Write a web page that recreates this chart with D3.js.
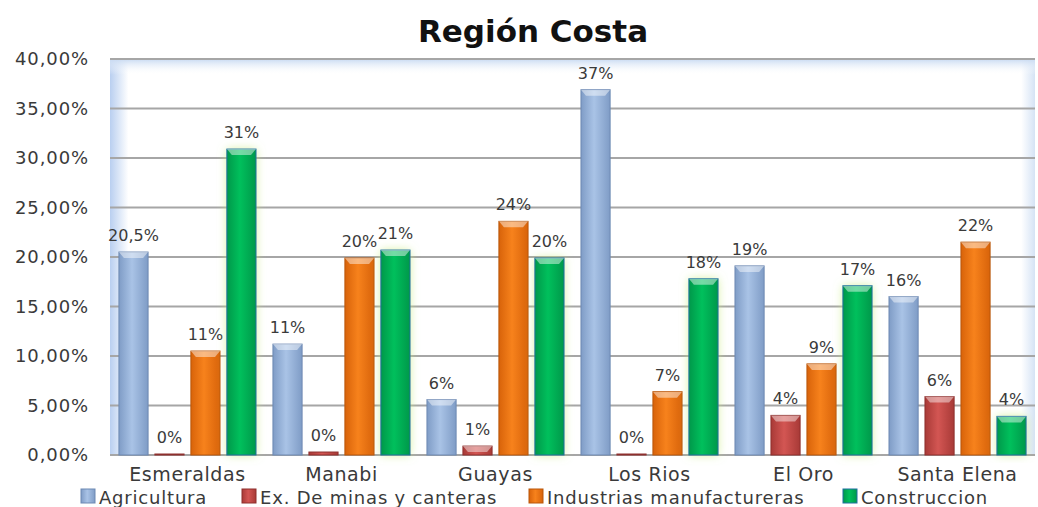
<!DOCTYPE html>
<html>
<head>
<meta charset="utf-8">
<script src="https://cdn.jsdelivr.net/npm/d3@7"></script>
<style>
  body { margin: 0; background: #fff; }
  svg { display: block; font-family: "DejaVu Sans", Verdana, sans-serif; }
</style>
</head>
<body>
<svg id="chart" width="1038" height="507"></svg>
<script>
// data
const regions = ["Esmeraldas", "Manabi", "Guayas", "Los Rios", "El Oro", "Santa Elena"];
const seriesNames = ["Agricultura", "Ex. De minas y canteras", "Industrias manufactureras", "Construccion"];
const agricultura = [20.5, 11.2, 5.6, 36.9, 19.1, 16.0];
const minas = [0.1, 0.3, 0.9, 0.1, 4.0, 5.9];
const industrias = [10.5, 19.9, 23.6, 6.4, 9.2, 21.5];
const construccion = [30.9, 20.7, 19.9, 17.8, 17.1, 3.9];
const agriLabels = ["20,5%", "11%", "6%", "37%", "19%", "16%"];
const minasLabels = ["0%", "0%", "1%", "0%", "4%", "6%"];
const indLabels = ["11%", "20%", "24%", "7%", "9%", "22%"];
const consLabels = ["31%", "21%", "20%", "18%", "17%", "4%"];
const yTicks = [0, 5, 10, 15, 20, 25, 30, 35, 40];

const colors = {
  "Agricultura": ["#7f9cc6", "#a9c3e6", "#6d89b3"],
  "Ex. De minas y canteras": ["#a83a37", "#d35653", "#8e2f2d"],
  "Industrias manufactureras": ["#d8630a", "#f7821c", "#b9560a"],
  "Construccion": ["#00984a", "#00c05c", "#00803e"]
};

const series = [
  { name: seriesNames[0], values: agricultura, labels: agriLabels },
  { name: seriesNames[1], values: minas, labels: minasLabels },
  { name: seriesNames[2], values: industrias, labels: indLabels },
  { name: seriesNames[3], values: construccion, labels: consLabels }
];

const svg = d3.select("#chart");
const margin = { left: 110, right: 3, top: 59, bottom: 52 };
const W = 1038, H = 507;

const x0 = d3.scaleBand().domain(regions).range([margin.left, W - margin.right]).paddingInner(0.11).paddingOuter(0.058);
const x1 = d3.scaleBand().domain(seriesNames).range([0, x0.bandwidth()]).paddingInner(0.19).paddingOuter(0);
const y = d3.scaleLinear().domain([0, 40]).range([H - margin.bottom, margin.top]);

const defs = svg.append("defs");

// plot background with bluish edges
const bgL = defs.append("linearGradient").attr("id", "bgL");
bgL.append("stop").attr("offset", "0").attr("stop-color", "#b9cff0");
bgL.append("stop").attr("offset", "0.02").attr("stop-color", "#ffffff");
bgL.append("stop").attr("offset", "0.985").attr("stop-color", "#ffffff");
bgL.append("stop").attr("offset", "1").attr("stop-color", "#d5e3f5");
const bgT = defs.append("linearGradient").attr("id", "bgT").attr("x2", 0).attr("y2", 1);
bgT.append("stop").attr("offset", "0").attr("stop-color", "#c8daf2").attr("stop-opacity", 1);
bgT.append("stop").attr("offset", "0.04").attr("stop-color", "#ffffff").attr("stop-opacity", 0);

Object.keys(colors).forEach((k, i) => {
  const g = defs.append("linearGradient").attr("id", "bar" + i);
  g.append("stop").attr("offset", "0").attr("stop-color", colors[k][0]);
  g.append("stop").attr("offset", "0.45").attr("stop-color", colors[k][1]);
  g.append("stop").attr("offset", "1").attr("stop-color", colors[k][0]);
});

const glow = defs.append("filter").attr("id", "glow").attr("x", "-60%").attr("y", "-20%").attr("width", "220%").attr("height", "140%");
glow.append("feGaussianBlur").attr("in", "SourceAlpha").attr("stdDeviation", 5).attr("result", "b");
glow.append("feFlood").attr("flood-color", "#c9ec7e").attr("flood-opacity", 0.75);
glow.append("feComposite").attr("in2", "b").attr("operator", "in");

const plotX0 = margin.left, plotX1 = W - margin.right;
svg.append("rect").attr("x", plotX0).attr("y", margin.top).attr("width", plotX1 - plotX0)
  .attr("height", y(0) - margin.top).attr("fill", "url(#bgL)");
svg.append("rect").attr("x", plotX0).attr("y", margin.top).attr("width", plotX1 - plotX0)
  .attr("height", y(0) - margin.top).attr("fill", "url(#bgT)");

// gridlines
svg.append("g").selectAll("line").data(yTicks).enter().append("line")
  .attr("x1", plotX0).attr("x2", plotX1)
  .attr("y1", d => y(d)).attr("y2", d => y(d))
  .attr("stroke", "#a6a6a6").attr("stroke-width", 2);

// y tick labels
svg.append("g").selectAll("text").data(yTicks).enter().append("text")
  .attr("x", 89).attr("y", d => y(d) + 6)
  .attr("text-anchor", "end")
  .attr("font-size", 18).attr("letter-spacing", 0.9).attr("fill", "#3a3a3a")
  .text(d => d.toFixed(2).replace(".", ",") + "%");

// bars
const groups = svg.append("g").selectAll("g").data(regions).enter().append("g")
  .attr("transform", d => `translate(${x0(d)},0)`);

series.forEach((s, si) => {
  const bw = x1.bandwidth();
  if (si === 3) {
    groups.append("rect")
      .attr("x", x1(s.name)).attr("y", (d, i) => y(s.values[i]))
      .attr("width", bw).attr("height", (d, i) => y(0) - y(s.values[i]))
      .attr("filter", "url(#glow)");
  }
  groups.append("rect")
    .attr("x", x1(s.name)).attr("y", (d, i) => y(s.values[i]))
    .attr("width", bw).attr("height", (d, i) => Math.max(1, y(0) - y(s.values[i])))
    .attr("fill", "url(#bar" + si + ")")
    .attr("stroke", si === 3 ? "#1f6fa0" : colors[s.name][2]).attr("stroke-width", 1);
  // bevel top cap
  groups.append("path")
    .attr("d", (d, i) => {
      const h = y(0) - y(s.values[i]);
      if (h < 6) return null;
      const xa = x1(s.name), yt = y(s.values[i]);
      return `M${xa},${yt}L${xa + bw},${yt}L${xa + bw - 5},${yt + 6}L${xa + 5},${yt + 6}Z`;
    })
    .attr("fill", "#ffffff").attr("fill-opacity", 0.45);
  groups.append("text")
    .attr("x", x1(s.name) + bw / 2)
    .attr("y", (d, i) => y(s.values[i]) - 11)
    .attr("text-anchor", "middle")
    .attr("font-size", 16).attr("fill", "#3a3a3a")
    .text((d, i) => s.labels[i]);
});

// category labels
svg.append("g").selectAll("text").data(regions).enter().append("text")
  .attr("x", d => x0(d) + x0.bandwidth() / 2).attr("y", 481)
  .attr("text-anchor", "middle").attr("font-size", 19).attr("letter-spacing", 0.6).attr("fill", "#3a3a3a")
  .text(d => d);

// legend
const legendX = [81, 242, 529, 843];
const leg = svg.append("g").selectAll("g").data(seriesNames).enter().append("g")
  .attr("transform", (d, i) => `translate(${legendX[i]},488)`);
leg.append("rect").attr("y", 1).attr("width", 14).attr("height", 14)
  .attr("fill", (d, i) => "url(#bar" + i + ")")
  .attr("stroke", (d, i) => i === 3 ? "#1f6fa0" : colors[d][2]);
leg.append("text").attr("x", 18).attr("y", 15.5).attr("font-size", 18).attr("letter-spacing", 0.8).attr("fill", "#3a3a3a")
  .text(d => d);

// title
svg.append("text").attr("x", 533).attr("y", 42).attr("text-anchor", "middle")
  .attr("font-size", 31).attr("font-weight", "bold").attr("fill", "#111")
  .text("Región Costa");
</script>
</body>
</html>
